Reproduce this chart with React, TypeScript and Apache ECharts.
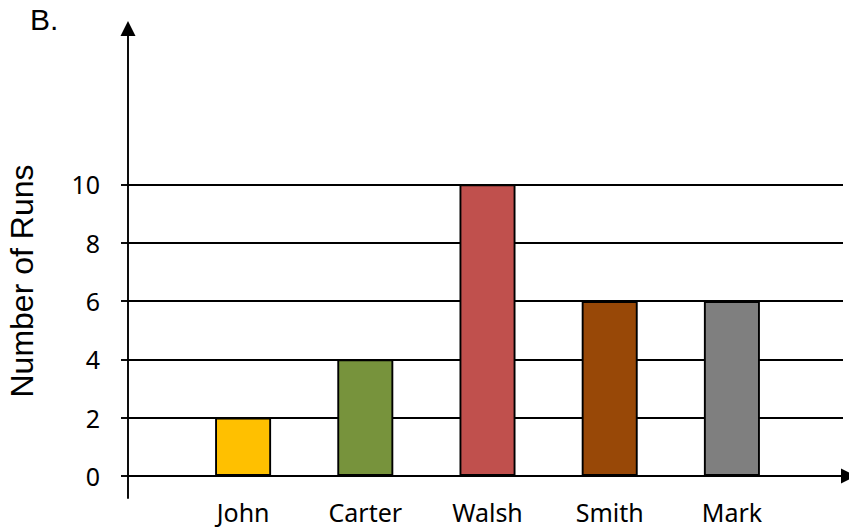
import React, { useEffect, useRef } from "react";
import * as echarts from "echarts";

const categories = ["John", "Carter", "Walsh", "Smith", "Mark"];
const runs = [2, 4, 10, 6, 6];
const barColors = ["#FFC000", "#77933C", "#C0504D", "#984807", "#7F7F7F"];
const yTickValues = [0, 2, 4, 6, 8, 10];
const gridLineValues = [2, 4, 6, 8, 10];
const yAxisTitle = "Number of Runs";
const panelLabel = "B.";

const Y_MIN = -0.755;
const Y_MAX = 15.35;

export default function App() {
  const ref = useRef<HTMLDivElement>(null);

  useEffect(() => {
    if (!ref.current) return;
    const chart = echarts.init(ref.current, null, { renderer: "svg" });
    const tickFont = "'Noto Sans', sans-serif";
    chart.setOption({
      animation: false,
      backgroundColor: "#ffffff",
      grid: [
        { left: 128, right: 6, top: 28.5, bottom: 33, containLabel: false, outerBoundsMode: "none" },
        { left: 182, right: 56, top: 28.5, bottom: 33, containLabel: false, outerBoundsMode: "none" },
      ],
      xAxis: [
        {
          gridIndex: 0,
          type: "value",
          min: 0,
          max: 1,
          axisLine: {
            show: true,
            onZero: true,
            symbol: ["none", "triangle"],
            symbolSize: [15, 15],
            symbolOffset: [0, 5.5],
            lineStyle: { color: "#000", width: 1.9 },
          },
          axisTick: { show: false },
          axisLabel: { show: false },
          splitLine: { show: false },
        },
        {
          gridIndex: 1,
          type: "category",
          data: categories,
          axisLine: { show: false, onZero: false },
          axisTick: { show: false },
          axisLabel: {
            margin: 1,
            color: "#000",
            fontFamily: tickFont,
            fontSize: 25,
          },
          splitLine: { show: false },
        },
      ],
      yAxis: [
        {
          gridIndex: 0,
          type: "value",
          min: Y_MIN,
          max: Y_MAX,
          axisLine: {
            show: true,
            symbol: ["none", "triangle"],
            symbolSize: [15, 15],
            lineStyle: { color: "#000", width: 1.9 },
          },
          axisTick: {
            show: true,
            customValues: yTickValues,
            length: 7,
            lineStyle: { color: "#000", width: 1.9 },
          },
          axisLabel: {
            customValues: yTickValues,
            margin: 28,
            color: "#000",
            fontFamily: tickFont,
            fontSize: 25,
            padding: [9, 0, 0, 0],
          },
          splitLine: { show: false },
        },
        {
          gridIndex: 1,
          type: "value",
          min: Y_MIN,
          max: Y_MAX,
          show: false,
          splitLine: { show: false },
        },
      ],
      graphic: [
        {
          type: "text",
          x: 21.5,
          y: 281,
          rotation: Math.PI / 2,
          style: {
            text: yAxisTitle,
            fill: "#000",
            font: "32px 'Liberation Sans', Arial, sans-serif",
            align: "center",
            verticalAlign: "middle",
          },
        },
        {
          type: "text",
          x: 30,
          y: 19,
          style: {
            text: panelLabel,
            fill: "#000",
            font: "30px 'Liberation Sans', Arial, sans-serif",
            align: "left",
            verticalAlign: "middle",
          },
        },
      ],
      series: [
        {
          type: "scatter",
          xAxisIndex: 0,
          yAxisIndex: 0,
          data: [],
          silent: true,
          markLine: {
            silent: true,
            symbol: ["none", "none"],
            label: { show: false },
            lineStyle: { color: "#000", width: 1.9, type: "solid" },
            data: gridLineValues.map((v) => ({ yAxis: v })),
          },
        },
        {
          type: "bar",
          xAxisIndex: 1,
          yAxisIndex: 1,
          barWidth: 56,
          data: runs.map((v, i) => ({
            value: v,
            itemStyle: { color: barColors[i], borderColor: "#000", borderWidth: 1.9 },
          })),
          z: 5,
        },
      ],
    });
    return () => chart.dispose();
  }, []);

  return (
    <div
      ref={ref}
      style={{ position: "absolute", left: 0, top: 0, width: 849, height: 531 }}
    />
  );
}
